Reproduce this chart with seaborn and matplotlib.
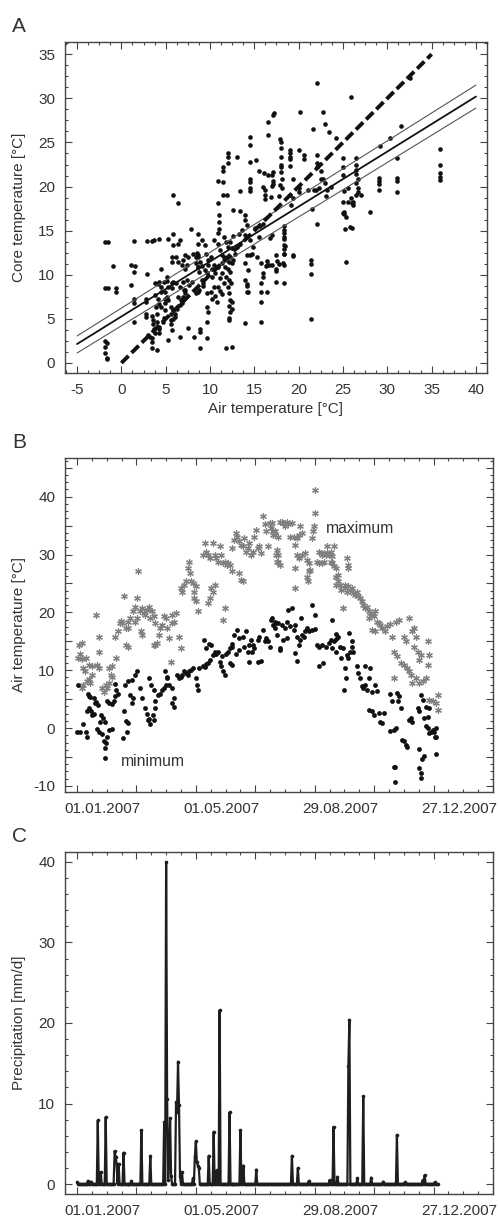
import numpy as np
import pandas as pd
import matplotlib
matplotlib.use("Agg")
import matplotlib.pyplot as plt
import seaborn as sns
from matplotlib.ticker import MultipleLocator, FixedLocator, FixedFormatter, FuncFormatter
from matplotlib.transforms import ScaledTranslation

# ---------------- Panel A data: air temperature vs core temperature ----------------
air_temp = [
    -1.8, -1.5, -1.8, -1.5, -1.8, -1.6, -1.8, -1.8, -1.6, -1.6,
    -1.0, -0.6, -0.6, 1.1, 1.5, 1.4, 1.1, 1.4, 1.4, 1.4,
    1.4, 2.9, 3.4, 3.7, 4.3, 2.9, 2.8, 2.8, 2.8, 2.8,
    3.0, 3.2, 3.5, 3.5, 3.5, 4.0, 3.6, 3.6, 3.7, 3.8,
    4.2, 4.2, 4.3, 4.7, 4.8, 3.9, 4.3, 4.1, 3.8, 3.8,
    4.1, 4.45, 5.3, 5.85, 5.85, 5.1, 5.7, 5.1, 5.3, 5.7,
    5.85, 6.2, 4.9, 5.1, 5.3, 4.9, 5.6, 5.85, 5.6, 6.0,
    5.6, 5.3, 6.6, 5.7, 5.7, 6.2, 6.4, 6.6, 6.4, 6.4,
    6.7, 6.8, 7.0, 7.2, 7.1, 7.5, 7.9, 7.5, 7.4, 7.2,
    8.1, 8.4, 8.4, 8.6, 8.0, 8.4, 8.6, 8.8, 8.6, 8.6,
    8.5, 8.7, 8.75, 9.1, 9.2, 9.2, 8.9, 8.9, 8.9, 8.2,
    9.1, 9.4, 9.6, 9.8, 10.1, 9.7, 9.8, 9.7, 9.7, 9.7,
    10.1, 10.4, 10.2, 10.6, 10.2, 10.4, 10.4, 10.9, 10.9, 11.0,
    11.0, 11.0, 10.9, 10.9, 11.5, 11.5, 12.0, 12.0, 12.0, 13.0,
    11.5, 11.5, 11.9, 11.1, 11.3, 11.6, 11.9, 12.1, 12.3, 12.5,
    11.4, 11.7, 12.0, 12.3, 11.3, 11.8, 12.1, 11.6, 12.0, 12.4,
    11.1, 10.9, 12.6, 12.8, 12.5, 12.0, 11.8, 11.6, 12.3, 12.6,
    13.0, 13.4, 12.1, 12.3, 12.1, 12.5, 12.1, 12.1, 11.8, 12.5,
    14.0, 12.6, 13.4, 13.9, 13.9, 14.5, 14.5, 14.5, 15.2, 16.5,
    16.5, 17.2, 13.4, 14.5, 14.5, 14.5, 14.5, 15.5, 16.1, 16.5,
    17.1, 17.1, 16.0, 16.2, 16.2, 16.2, 14.0, 14.5, 14.9, 15.5,
    14.2, 14.5, 14.7, 15.3, 15.7, 16.4, 14.0, 14.3, 14.0, 14.2,
    14.3, 15.7, 15.7, 15.7, 16.4, 17.0, 17.4, 17.5, 10.2, 10.6,
    11.1, 10.9, 11.3, 10.8, 4.3, 4.5, 4.8, 4.5, 4.9, 4.45,
    4.9, 4.0, 3.5, 4.0, 6.6, 7.0, 7.4, 7.6, 7.2, 6.9,
    6.6, 6.3, 6.1, 5.8, 5.6, 5.7, 7.0, 6.8, 7.2, 8.6,
    8.9, 9.1, 8.7, 9.4, 9.7, 9.8, 14.2, 14.2, 18.3, 19.4,
    18.3, 18.3, 18.3, 17.6, 17.4, 15.7, 16.0, 16.0, 16.3, 16.6,
    16.4, 25.3, 25.2, 25.8, 25.1, 25.1, 25.0, 26.0, 28.0, 17.1,
    20.1, 22.1, 22.8, 25.9, 21.6, 23.0, 23.4, 24.2, 32.6, 31.5,
    30.3, 29.2, 36.0, 36.0, 36.0, 36.0, 36.0, 31.1, 31.1, 31.1,
    31.1, 29.1, 29.1, 29.1, 29.1, 26.5, 26.5, 26.5, 26.5, 26.7,
    26.5, 26.7, 26.7, 26.5, 27.0, 25.0, 25.0, 25.0, 25.1, 25.0,
    25.3, 26.0, 25.6, 25.9, 26.1, 26.1, 25.6, 17.9, 18.0, 18.0,
    18.0, 18.0, 18.0, 18.0, 18.1, 17.9, 19.0, 19.0, 19.0, 19.0,
    19.0, 20.0, 20.6, 20.6, 17.0, 17.1, 17.0, 16.9, 19.4, 20.0,
    20.0, 19.4, 18.1, 17.8, 19.0, 19.1, 21.0, 22.1, 22.1, 22.1,
    22.5, 22.5, 22.8, 23.0, 23.2, 23.1, 23.6, 22.0, 22.3, 21.7,
    21.5, 22.1, 21.4, 21.4, 21.4, 21.4, 18.3, 18.3, 18.3, 18.4,
    18.4, 18.5, 18.4, 18.2, 17.8, 18.4, 19.4, 16.8, 17.0, 17.4,
    5.85, 6.4, 12.5, 12.2, 13.3, 13.6, 14.2, 15.1, 15.6, 16.0,
]
core_temp = [
    13.7, 13.7, 8.5, 8.5, 2.5, 2.3, 1.8, 1.1, 0.6, 0.4,
    11.0, 8.5, 8.1, 11.1, 11.0, 10.3, 8.8, 7.3, 6.8, 4.7,
    13.8, 13.8, 13.8, 13.9, 14.1, 10.1, 7.3, 6.9, 5.6, 5.2,
    3.2, 3.0, 2.8, 2.4, 1.7, 1.5, 4.9, 4.4, 3.8, 3.4,
    3.4, 3.8, 4.1, 4.7, 5.1, 6.4, 6.7, 7.2, 7.7, 9.1,
    8.9, 10.7, 14.0, 14.6, 13.4, 9.8, 9.1, 9.3, 8.6, 8.5,
    9.2, 9.1, 8.0, 7.5, 7.1, 6.75, 6.4, 6.0, 5.6, 5.25,
    4.9, 2.6, 2.9, 12.0, 11.5, 12.0, 11.4, 13.9, 13.5, 7.5,
    7.1, 6.75, 7.5, 7.9, 8.3, 4.0, 15.2, 12.0, 11.1, 10.7,
    12.4, 12.0, 11.3, 10.9, 9.2, 7.9, 8.1, 8.3, 14.6, 13.5,
    12.5, 12.2, 10.3, 9.4, 9.1, 8.7, 3.9, 3.5, 1.7, 2.9,
    13.9, 13.4, 12.4, 11.7, 12.0, 6.4, 5.8, 4.7, 2.8, 7.9,
    8.1, 8.6, 9.8, 10.2, 10.7, 11.1, 13.9, 13.5, 14.7, 15.2,
    16.0, 16.8, 18.1, 20.6, 22.2, 21.8, 23.8, 23.3, 22.7, 23.4,
    20.5, 19.1, 19.0, 12.8, 12.2, 12.0, 11.7, 11.5, 12.0, 11.3,
    11.3, 10.9, 10.7, 10.3, 10.2, 9.8, 9.4, 9.1, 8.6, 9.1,
    9.6, 10.9, 11.7, 12.4, 13.0, 13.2, 13.7, 14.3, 13.7, 14.4,
    13.2, 13.5, 7.9, 7.1, 6.5, 6.1, 5.1, 4.9, 1.7, 1.8,
    4.5, 17.3, 17.2, 16.8, 16.2, 25.6, 24.7, 22.8, 23.0, 27.3,
    25.8, 28.3, 19.5, 20.9, 20.5, 19.8, 19.5, 21.8, 21.5, 21.3,
    21.7, 20.3, 20.0, 19.6, 19.1, 18.6, 14.5, 13.9, 13.2, 14.3,
    12.2, 12.2, 12.4, 12.0, 11.3, 11.1, 11.3, 10.5, 9.4, 9.0,
    8.1, 8.0, 6.9, 4.6, 8.1, 14.5, 10.7, 9.2, 7.2, 7.6,
    8.2, 8.6, 7.8, 6.9, 9.2, 8.6, 9.2, 8.1, 7.3, 6.4,
    6.0, 5.6, 5.3, 4.7, 8.6, 9.2, 9.4, 8.8, 8.3, 7.1,
    6.6, 6.1, 5.6, 5.0, 4.4, 3.7, 11.7, 11.1, 12.2, 12.0,
    11.5, 11.0, 10.9, 10.5, 10.2, 11.1, 8.7, 8.1, 9.1, 12.2,
    12.4, 12.9, 13.4, 11.6, 12.2, 9.1, 9.7, 10.2, 11.0, 11.1,
    11.6, 11.4, 15.2, 15.4, 17.1, 16.9, 18.3, 18.1, 17.1, 28.1,
    28.4, 31.7, 28.4, 30.1, 26.5, 27.1, 26.2, 25.5, 32.3, 26.9,
    25.5, 24.6, 24.3, 22.4, 21.5, 21.1, 20.8, 23.2, 21.0, 20.6,
    19.4, 21.0, 20.6, 20.3, 19.6, 23.2, 22.4, 21.9, 21.4, 20.9,
    20.4, 19.8, 19.4, 19.1, 19.1, 23.2, 22.2, 21.3, 19.5, 17.0,
    16.5, 15.3, 19.8, 18.7, 18.3, 17.9, 18.3, 25.4, 25.1, 24.4,
    23.4, 22.5, 22.2, 21.7, 20.9, 20.2, 24.2, 23.8, 23.4, 23.1,
    22.3, 24.2, 23.6, 23.1, 21.3, 20.6, 20.1, 18.8, 20.9, 19.8,
    19.4, 18.7, 19.8, 18.9, 19.1, 17.9, 19.6, 23.6, 22.7, 22.2,
    21.8, 20.9, 20.9, 20.4, 19.6, 18.9, 20.0, 19.6, 19.8, 19.6,
    17.5, 15.7, 11.7, 11.2, 10.1, 5.0, 15.5, 15.1, 14.7, 14.3,
    14.0, 13.3, 12.3, 11.3, 11.2, 11.1, 12.1, 14.2, 11.1, 10.4,
    19.1, 18.1, 6.9, 5.8, 14.6, 15.1, 15.6, 15.3, 15.5, 15.8,
]

# regression line and its band, and 1:1 line
fit_x = [-5.0, 40.0]
fit_y = [2.15, 30.2]
fit_upper = [3.06, 31.5]
fit_lower = [1.13, 28.9]
one_to_one = [0.0, 35.0]

# ---------------- Panel B data: daily min / max air temperature ----------------
min_day = [
    0, 1, 3, 6, 9, 10, 11, 13, 10, 12, 14, 15, 17, 18, 12, 17, 19, 21, 20, 22,
    23, 25, 27, 28, 29, 30, 32, 35, 28, 24, 26, 28, 30, 32, 35, 37, 38, 39, 38, 41,
    47, 46, 48, 51, 56, 59, 49, 51, 50, 54, 57, 56, 61, 64, 66, 69, 71, 72, 73, 74,
    78, 77, 79, 79, 73, 75, 78, 82, 84, 86, 88, 90, 91, 89, 91, 93, 96, 98, 96, 98,
    101, 103, 105, 106, 108, 110, 112, 113, 115, 117, 120, 122, 121, 123, 127, 129, 130, 132, 134, 137,
    128, 130, 133, 135, 139, 140, 142, 144, 145, 147, 149, 146, 150, 152, 154, 156, 157, 154, 157, 159,
    162, 164, 168, 171, 161, 164, 169, 173, 174, 176, 178, 179, 183, 184, 188, 190, 191, 193, 195, 196,
    198, 200, 201, 205, 174, 177, 183, 186,
    197, 200, 203, 207, 210, 212, 215, 219, 220, 202, 205, 208, 212, 213, 217, 222, 224, 225, 227, 229,
    230, 232, 234, 237, 240, 226, 237, 240, 220, 222, 242, 244, 247, 251, 254, 256, 257, 259, 261, 262,
    264, 257, 244, 248, 262, 266, 267, 269, 271, 272, 270, 273, 274, 276, 278, 278, 279, 275, 283, 284,
    286, 288, 289, 291, 293, 295, 298, 301, 303, 291, 296, 295, 298, 300, 305, 306, 308, 310, 316, 318,
    323, 325, 327, 324, 316, 320, 322, 328, 330, 332, 333, 335, 337, 338, 344, 347, 349, 352, 354, 345,
    350, 320, 321, 321, 345, 345, 347, 347, 348, 350, 352, 354, 355, 357, 359, 360, 362, 361, 362, 362,
    355,
]
min_temp = [
    -0.6, 7.4, -0.7, 0.7, -0.6, -1.5, 5.9, 5.3, 3.0, 3.4, 3.0, 2.3, 2.4, 4.3, 5.6, 5.2, 4.5, 4.0, -0.1, -0.6,
    1.1, -1.1, -2.2, -3.5, -2.5, -1.6, -0.3, -0.1, -5.2, 2.3, 1.7, 1.1, 4.6, 4.3, 4.1, 4.6, 5.5, 6.6, 7.6, 5.9,
    2.9, -1.8, 7.5, 8.1, 8.3, 9.2, 1.2, 0.85, -0.6, 5.8, 5.2, 4.3, 9.8, 6.9, 5.2, 3.4, 2.4, 1.4, 1.6, 0.7,
    1.4, 2.3, 3.4, 4.6, 8.7, 7.5, 6.6, 5.8, 5.9, 6.6, 7.0, 7.5, 8.6, 9.8, 8.9, 7.5, 7.0, 5.2, 4.3, 3.7,
    9.2, 8.7, 8.9, 9.2, 9.8, 9.5, 9.2, 9.8, 10.1, 10.4, 8.6, 6.6, 7.5, 10.4, 10.7, 10.5, 11.0, 11.2, 11.8, 12.7,
    15.3, 13.8, 14.5, 14.3, 13.2, 12.8, 13.2, 11.5, 10.7, 9.9, 9.2, 12.4, 12.8, 13.2, 13.8, 14.5, 14.1, 11.2, 10.9, 16.1,
    17.0, 15.6, 15.8, 16.7, 12.8, 13.5, 14.1, 13.2, 14.4, 15.3, 14.4, 13.8, 15.3, 15.8, 17.0, 15.0, 15.6, 15.0, 14.1, 18.7,
    17.9, 17.3, 18.2, 13.5, 11.5, 13.2, 11.5, 11.6,
    19.0, 18.4, 18.2, 17.9, 17.3, 18.4, 17.6, 17.0, 17.9, 16.1, 13.8, 15.3, 15.6, 20.5, 20.7, 15.8, 14.4, 15.3, 16.1, 15.7,
    16.7, 17.3, 16.8, 17.0, 17.2, 19.0, 21.2, 19.6, 13.0, 11.6, 14.4, 14.1, 14.4, 14.1, 14.7, 15.3, 13.8, 15.0, 15.4, 16.2,
    15.8, 18.7, 10.7, 11.2, 13.2, 14.1, 12.1, 13.8, 10.4, 8.6, 6.6, 12.7, 12.1, 13.2, 15.0, 14.1, 13.2, 16.5, 10.7, 9.5,
    8.6, 7.2, 6.9, 7.5, 6.6, 8.7, 6.3, 7.5, 6.4, 10.7, 10.4, 3.2, 3.0, 2.3, 2.6, 1.1, 0.85, 2.6, 5.9, 4.6,
    6.0, 5.6, 3.4, 4.6, -0.5, -0.3, 0.0, -2.0, -2.3, -2.9, -3.2, 1.4, 1.7, 1.1, 3.4, 5.8, 4.9, 3.7, 2.0, 2.9,
    1.7, -6.7, -6.7, -9.4, -3.6, -6.9, -7.8, -8.7, -5.3, -4.9, 0.3, 0.0, -0.9, -0.6, -0.3, -0.6, 0.0, -1.6, -1.5, -4.5,
    3.4,
]
max_day = [
    2, 3, 1, 5, 9, 5, 6, 8, 12, 15, 20, 22, 19, 22, 5, 6, 10, 12, 13, 15,
    22, 25, 27, 29, 30, 32, 34, 35, 32, 35, 38, 39, 41, 43, 44, 45, 47, 49, 51, 52,
    54, 49, 51, 59, 61, 57, 59, 61, 62, 64, 66, 68, 69, 71, 73, 74, 76, 78, 79, 65,
    66, 78, 79, 81, 83, 84, 86, 88, 90, 91, 93, 95, 96, 98, 96, 100, 103, 105, 105, 106,
    108, 110, 112, 113, 114, 115, 117, 118, 120, 118, 120, 122, 127, 130, 132, 129, 134, 137, 139, 140,
    142, 144, 145, 147, 149, 151, 152, 154, 156, 157, 159, 135, 137, 139, 147, 149, 134, 132, 161, 162,
    164, 166, 168, 169, 171, 173, 174, 176, 178, 179, 181, 183, 184, 186, 188, 190, 191, 193, 195, 196,
    198, 200, 201, 203, 205, 166, 168, 164,
    197, 200, 203, 207, 208, 210, 212, 213, 215, 217, 198, 202, 203, 202, 205, 219, 220, 222, 225, 227,
    224, 220, 220, 222, 224, 227, 230, 232, 234, 234, 232, 233, 235, 237, 238, 239, 240, 240, 244, 246,
    247, 249, 251, 252, 254, 256, 257, 252, 259, 242, 244, 247, 249, 256, 257, 259, 261, 262, 264, 273,
    274, 271, 274, 261, 262, 266, 264, 267, 271, 273, 274, 276, 278, 279, 281, 283, 284, 286, 288, 289,
    291, 293, 295, 296, 298, 300, 301, 303, 305, 306, 269, 295, 298, 301, 316, 318, 322, 325, 330, 332,
    335, 338, 340, 342, 340, 344, 345, 347, 320, 323, 327, 330, 333, 335, 337, 338, 342, 345, 349, 352,
    354, 355, 354, 320, 355, 359, 362, 364, 364, 308, 311, 313,
]
max_temp = [
    14.4, 12.8, 12.2, 12.0, 12.1, 14.7, 10.4, 9.8, 10.9, 10.7, 10.9, 10.4, 19.6, 15.8, 6.9, 7.5, 8.1, 8.5, 7.8, 9.2,
    13.1, 6.9, 6.3, 7.5, 6.9, 7.8, 9.2, 8.9, 10.4, 10.7, 15.8, 12.1, 16.7, 18.2, 18.5, 18.2, 22.8, 17.3, 18.4, 17.3,
    19.0, 14.4, 14.1, 18.4, 19.0, 20.2, 21.0, 22.5, 27.1, 20.2, 20.7, 19.9, 19.6, 20.5, 21.0, 19.0, 20.2, 19.3, 18.2, 16.7,
    16.1, 14.4, 14.4, 14.7, 16.1, 17.3, 17.9, 19.3, 19.0, 17.3, 15.6, 11.5, 18.1, 18.4, 19.6, 19.9, 15.8, 13.8, 24.2, 23.6,
    24.8, 25.4, 27.7, 28.8, 26.8, 25.4, 25.1, 23.6, 24.5, 22.5, 21.9, 20.2, 30.0, 30.5, 30.0, 32.0, 29.4, 32.0, 30.0, 29.4,
    28.8, 31.4, 30.0, 28.5, 28.8, 28.2, 28.5, 28.2, 27.1, 31.1, 32.6, 24.2, 23.6, 24.8, 18.7, 20.7, 22.5, 21.6, 33.7, 33.1,
    32.3, 31.7, 31.4, 32.9, 30.5, 31.1, 32.0, 30.0, 30.5, 33.1, 34.3, 31.1, 31.4, 30.3, 36.6, 35.2, 34.0, 31.4, 35.5, 34.6,
    34.0, 33.4, 30.0, 28.8, 35.7, 25.6, 25.4, 26.8,
    35.4, 34.0, 33.1, 35.7, 35.4, 34.9, 35.7, 35.2, 33.1, 35.4, 33.4, 30.8, 30.0, 28.8, 28.2, 33.1, 31.7, 32.9, 34.9, 33.7,
    33.4, 27.7, 24.2, 30.0, 29.4, 30.0, 30.3, 29.1, 28.5, 27.1, 26.2, 25.5, 27.4, 32.9, 34.1, 34.9, 37.2, 41.2, 30.5, 30.3,
    30.0, 30.3, 30.0, 30.3, 30.0, 30.5, 29.7, 31.4, 31.4, 28.8, 28.5, 28.5, 28.8, 28.8, 28.5, 28.0, 27.7, 26.2, 26.5, 29.4,
    28.2, 24.8, 27.7, 26.2, 24.8, 24.8, 25.4, 23.9, 24.2, 23.6, 24.5, 23.9, 24.2, 23.3, 23.0, 23.6, 22.8, 22.5, 21.9, 21.3,
    20.8, 21.0, 20.2, 19.9, 19.6, 19.3, 20.2, 18.4, 18.1, 17.9, 20.8, 19.0, 17.0, 16.7, 18.0, 15.8, 18.4, 18.7, 15.8, 15.0,
    19.0, 16.7, 17.3, 15.8, 14.1, 13.2, 11.8, 12.7, 13.2, 12.4, 11.2, 10.9, 10.4, 9.8, 9.2, 7.8, 8.6, 7.8, 8.1, 8.6,
    10.9, 12.7, 15.0, 8.6, 4.9, 4.6, 4.3, 3.2, 5.8, 17.3, 16.7, 17.6,
]

# ---------------- Panel C data: daily precipitation (days not listed are 0) ----------------
precip_days = [0, 11, 14, 21, 24, 29, 38, 39, 40, 42,
               47, 55, 65, 74, 88, 90, 91, 92, 93, 94,
               95, 100, 101, 102, 103, 104, 106, 117, 119, 120,
               121, 122, 123, 133, 138, 141, 144, 154, 165, 168,
               181, 217, 223, 234, 255, 259, 263, 274, 275, 283,
               289, 297, 309, 323, 331, 349, 351, 361]
precip_vals = [0.2, 0.4, 0.3, 7.9, 1.5, 8.3, 4.1, 3.4, 2.5, 2.5,
               3.9, 0.4, 6.7, 3.5, 7.7, 40.0, 10.6, 0.5, 3.0, 8.2,
               1.0, 10.2, 9.0, 15.2, 9.8, 1.0, 1.5, 0.7, 3.4, 5.3,
               2.7, 2.3, 2.0, 3.5, 6.5, 1.7, 21.6, 8.9, 6.7, 2.3,
               1.8, 3.5, 2.0, 0.4, 0.5, 7.1, 0.9, 14.7, 20.4, 0.7,
               10.9, 0.8, 0.3, 6.1, 0.2, 0.5, 1.1, 0.2]
n_days = 365

date_tick_days = [0, 60, 120, 180, 240, 300, 360, 420]
date_tick_labels = ["01.01.2007", "", "01.05.2007", "", "29.08.2007", "", "27.12.2007", ""]

# ---------------- style ----------------
sns.set_theme(style="ticks")
plt.rcParams["font.family"] = ["Liberation Sans", "DejaVu Sans"]
plt.rcParams["axes.unicode_minus"] = False
TXT = "#333333"
EDGE = "#444444"

fig = plt.figure(figsize=(5.0, 12.18), dpi=100)
axA = fig.add_axes([0.13, 0.6938, 0.844, 0.2718])
axB = fig.add_axes([0.13, 0.3498, 0.856, 0.2742])
axC = fig.add_axes([0.13, 0.0197, 0.856, 0.2808])


def style_axes(ax):
    for sp in ax.spines.values():
        sp.set_visible(True)
        sp.set_color(EDGE)
        sp.set_linewidth(1.0)
    ax.tick_params(which="both", direction="in", top=True, right=True,
                   color=EDGE, width=0.8, labelcolor=TXT, labelsize=11)
    ax.tick_params(which="major", length=5)
    ax.tick_params(which="minor", length=2.5)
    ax.tick_params(axis="x", which="major", pad=7)
    ax.tick_params(axis="y", which="major", pad=7)
    ax.set_facecolor("white")


# ---------------- Panel A ----------------
sns.scatterplot(x=air_temp, y=core_temp, ax=axA, color="#111111", s=11,
                linewidth=0, legend=False, zorder=3)
sns.lineplot(x=fit_x, y=fit_upper, ax=axA, color="#555555", lw=0.8, zorder=4)
sns.lineplot(x=fit_x, y=fit_lower, ax=axA, color="#555555", lw=0.8, zorder=4)
sns.lineplot(x=fit_x, y=fit_y, ax=axA, color="#111111", lw=1.3, zorder=4)
sns.lineplot(x=one_to_one, y=one_to_one, ax=axA, color="#111111", lw=2.8, zorder=5)
axA.get_lines()[-1].set_dashes((2.6, 1.1))
axA.set_xlim(-6.36, 41.25)
axA.set_ylim(-1.13, 36.4)
style_axes(axA)
axA.xaxis.set_major_locator(MultipleLocator(5))
axA.xaxis.set_minor_locator(MultipleLocator(1.25))
axA.yaxis.set_major_locator(MultipleLocator(5))
axA.yaxis.set_minor_locator(MultipleLocator(1.25))
axA.set_xlabel("Air temperature [°C]", fontsize=11, color=TXT)
axA.set_ylabel("Core temperature [°C]", fontsize=11, color=TXT)
axA.xaxis.set_label_coords(0.5, -0.0876)
axA.yaxis.set_label_coords(-0.092, 0.5)

# ---------------- Panel B ----------------
sns.scatterplot(x=max_day, y=max_temp, ax=axB, marker=(6, 2, 0), color="#808080",
                s=17, linewidth=0.9, legend=False, zorder=3)
sns.scatterplot(x=min_day, y=min_temp, ax=axB, color="#111111", s=12,
                linewidth=0, legend=False, zorder=4)
axB.text(251.2, 33.7, "maximum", fontsize=11.3, color=TXT, va="baseline", ha="left")
axB.text(44.1, -6.5, "minimum", fontsize=11.3, color=TXT, va="baseline", ha="left")
axB.set_xlim(-12.1, 420)
axB.set_ylim(-11.04, 46.7)
style_axes(axB)
axB.yaxis.set_major_locator(MultipleLocator(5))
axB.yaxis.set_major_formatter(FuncFormatter(lambda v, p: f"{int(round(v))}" if round(v) % 10 == 0 else ""))
axB.yaxis.set_minor_locator(MultipleLocator(1.25))
axB.set_ylabel("Air temperature [°C]", fontsize=11, color=TXT)
axB.set_xlabel("")
axB.yaxis.set_label_coords(-0.091, 0.5)

# ---------------- Panel C ----------------
precip = pd.Series(0.0, index=np.arange(n_days))
precip.loc[precip_days] = precip_vals
sns.lineplot(x=precip.index, y=precip.values, ax=axC, color="#1e1e1e", lw=1.6,
             marker="o", markersize=2.6, markeredgewidth=0, zorder=3)
axC.set_xlim(-12.1, 420)
axC.set_ylim(-1.24, 41.24)
style_axes(axC)
axC.yaxis.set_major_locator(MultipleLocator(10))
axC.yaxis.set_minor_locator(MultipleLocator(2))
axC.set_ylabel("Precipitation [mm/d]", fontsize=11, color=TXT)
axC.set_xlabel("")
axC.yaxis.set_label_coords(-0.091, 0.5)

for ax in (axB, axC):
    ax.xaxis.set_major_locator(FixedLocator(date_tick_days))
    ax.xaxis.set_major_formatter(FixedFormatter(date_tick_labels))
    ax.xaxis.set_minor_locator(MultipleLocator(15))
    off = ScaledTranslation(0.255, 0, fig.dpi_scale_trans)
    for lab in ax.xaxis.get_majorticklabels():
        lab.set_transform(lab.get_transform() + off)

# panel letters
fig.text(0.024, 0.9737, "A", fontsize=15, color=TXT, va="baseline")
fig.text(0.024, 0.6322, "B", fontsize=15, color=TXT, va="baseline")
fig.text(0.024, 0.3087, "C", fontsize=15, color=TXT, va="baseline")

fig.savefig("out.png", dpi=100, facecolor="white")
